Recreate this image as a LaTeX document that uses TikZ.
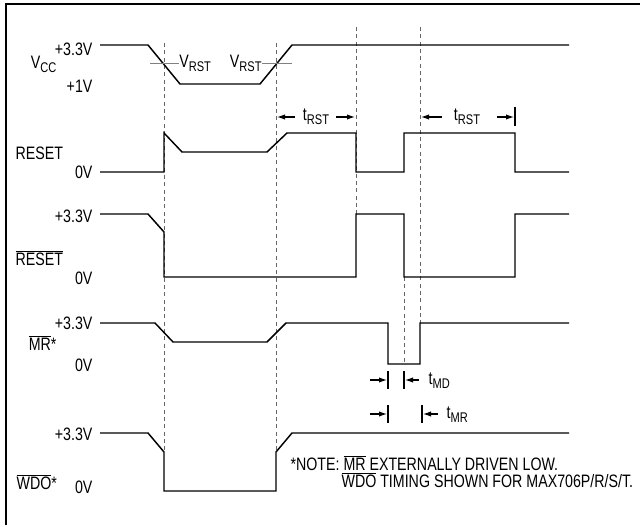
\documentclass[tikz,border=0pt]{standalone}
\usepackage{fontspec}
\setmainfont{Liberation Sans}[FakeStretch=0.79]
\usetikzlibrary{arrows.meta}
\newcommand{\lsub}[1]{\raisebox{-.4ex}{\fontsize{10.5}{11}\selectfont #1}}
\newcommand{\ovl}[1]{$\overline{\mbox{#1}}$}
\begin{document}
\begin{tikzpicture}[x=0.75pt, y=-0.75pt, >={Latex[length=6pt,width=4pt]},
		every node/.style={font=\fontsize{13.5}{15}\selectfont, inner sep=1pt},
		sig/.style={line width=1.1pt},
		guide/.style={dashed, gray!80!black, line width=0.6pt, dash pattern=on 3pt off 2.5pt},
		tim/.style={->, line width=0.8pt},
		tick/.style={line width=0.8pt}]
		\useasboundingbox (0,0) rectangle (640,527);
		\draw[line width=1.5pt] (6,525) -- (6,4) -- (640,4);
		%hilfslinien
		\draw[guide] (164,43) -- (164,452);
		\draw[guide] (276,43) -- (276,452);
		\draw[guide] (356,27) -- (356,214);
		\draw[guide] (420,27) -- (420,323);
		\draw[guide] (404,277) -- (404,364);
		%vcc
		\draw[sig] (100,45) -- (148,45) -- (180,84) -- (260,84) -- (292,45) -- (569,45);
		\draw[gray, line width=0.6pt] (150,63) -- (179,63) node[black, anchor=west, inner sep=0pt] (vrst1) {V\lsub{RST}};
		\draw[gray, line width=0.6pt] (292,63) -- (262,63) node[black, anchor=east, inner sep=0pt] (vrst2) {V\lsub{RST}};
		\node[anchor=east] (vcc) at (58,64) {V\lsub{CC}};
		\node[anchor=east] (vcchi) at (94,49) {+3.3V};
		\node[anchor=east] (vcclo) at (94,86) {+1V};
		%reset
		\draw[sig] (100,172) -- (164,172) -- (164,133) -- (182,152) -- (267,152) -- (287,133) -- (356,133)
			-- (356,172) -- (404,172) -- (404,133) -- (515,133) -- (515,172) -- (569,172);
		\node[anchor=west] (rst) at (14,153) {RESET};
		\node[anchor=east] (rstlo) at (94,172) {0V};
		%t_rst
		\draw[tim] (295,117) -- (277,117);
		\node (trst1) at (316,117) {t\lsub{RST}};
		\draw[tim] (336,117) -- (355,117);
		\draw[tim] (442,117) -- (421,117);
		\node (trst2) at (467,117) {t\lsub{RST}};
		\draw[tim] (497,117) -- (514,117);
		\draw[tick] (515,107) -- (515,126);
		%reset quer
		\draw[sig] (100,214) -- (148,214) -- (164,232) -- (164,277) -- (356,277) -- (356,214) -- (404,214)
			-- (404,277) -- (515,277) -- (515,214) -- (569,214);
		\node[anchor=west] (nrst) at (14,258) {\ovl{RESET}};
		\node[anchor=east] (nrsthi) at (94,216) {+3.3V};
		\node[anchor=east] (nrstlo) at (94,278) {0V};
		%mr quer
		\draw[sig] (100,323) -- (155,323) -- (173,342) -- (267,342) -- (286,323) -- (388,323) -- (388,364)
			-- (420,364) -- (420,323) -- (569,323);
		\node[anchor=east] (mr) at (58,343) {\ovl{MR}*};
		\node[anchor=east] (mrhi) at (94,323) {+3.3V};
		\node[anchor=east] (mrlo) at (94,365) {0V};
		%t_md, t_mr
		\draw[tick] (388,371) -- (388,389);
		\draw[tim] (370,380) -- (387,380);
		\draw[tick] (404,371) -- (404,389);
		\draw[tim] (419,380) -- (405,380);
		\node[anchor=west] (tmd) at (427,381) {t\lsub{MD}};
		\draw[tick] (388,405) -- (388,423);
		\draw[tim] (370,414) -- (387,414);
		\draw[tick] (422,405) -- (422,423);
		\draw[tim] (438,414) -- (423,414);
		\node[anchor=west] (tmr) at (445,415) {t\lsub{MR}};
		%wdo quer
		\draw[sig] (100,433) -- (148,433) -- (164,452) -- (164,491) -- (276,491) -- (276,452) -- (292,433) -- (569,433);
		\node[anchor=west] (wdo) at (15,482) {\ovl{WDO}*};
		\node[anchor=east] (wdohi) at (94,434) {+3.3V};
		\node[anchor=east] (wdolo) at (94,487) {0V};
		%note
		\node[anchor=west] (note1) at (289,463) {*NOTE: \ovl{MR} EXTERNALLY DRIVEN LOW.};
		\node[anchor=west] (note2) at (340,480) {\ovl{WDO} TIMING SHOWN FOR MAX706P/R/S/T.};
\end{tikzpicture}
\end{document}
